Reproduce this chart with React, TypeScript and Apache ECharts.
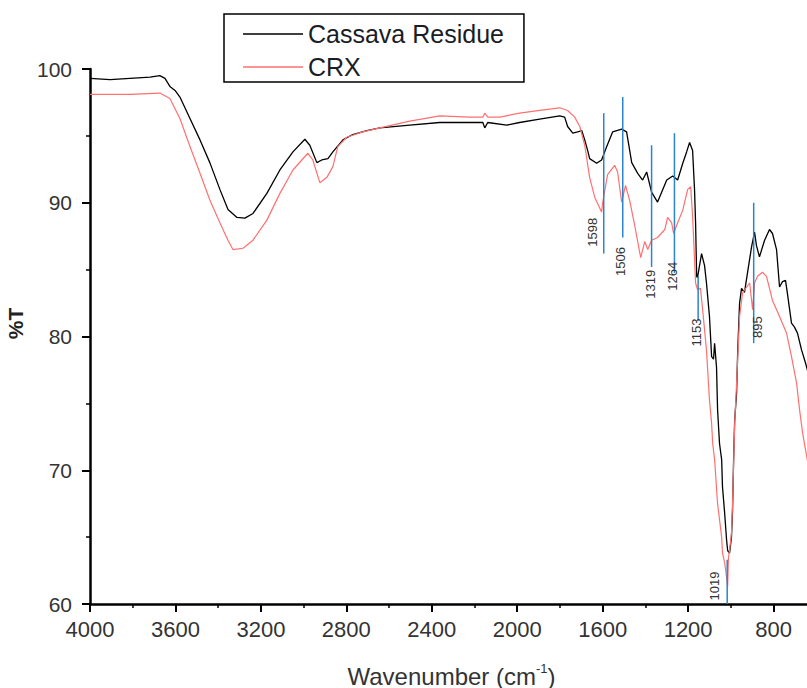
import React, { useEffect, useRef } from 'react';
import * as echarts from 'echarts';

// Cassava Residue spectrum (wavenumber cm-1, %T)
const cassavaWave = [
  4000, 3906, 3813, 3719, 3673, 3649, 3626, 3602, 3579, 3532,
  3485, 3439, 3392, 3354, 3312, 3275, 3237, 3172, 3111, 3050,
  2994, 2971, 2938, 2915, 2886, 2863, 2816, 2770, 2704, 2643,
  2503, 2363, 2222, 2161, 2152, 2138, 2049, 1989, 1895, 1801,
  1778, 1764, 1740, 1717, 1698, 1684, 1670, 1661, 1628, 1605,
  1581, 1553, 1511, 1488, 1464, 1436, 1413, 1394, 1371, 1343,
  1300, 1272, 1249, 1225, 1207, 1193, 1179, 1170, 1165, 1160,
  1156, 1137, 1123, 1114, 1100, 1090, 1081, 1076, 1067, 1062,
  1053, 1043, 1039, 1029, 1020, 1015, 1006, 997, 992, 987,
  982, 973, 968, 959, 950, 936, 922, 903, 889, 880,
  866, 842, 819, 805, 786, 772, 758, 744, 735, 716,
  702, 688, 669, 650, 640,
];
const cassavaT = [
  99.3, 99.2, 99.3, 99.4, 99.5, 99.3, 98.7, 98.4, 97.9, 96.3,
  94.7, 93.0, 91.0, 89.5, 88.9, 88.85, 89.2, 90.7, 92.45, 93.8,
  94.75, 94.3, 93.0, 93.2, 93.3, 93.8, 94.7, 95.1, 95.4, 95.6,
  95.8, 96.0, 96.0, 96.0, 95.6, 96.0, 95.8, 96.0, 96.25, 96.5,
  96.4, 95.7, 95.2, 95.3, 95.4, 94.7, 93.9, 93.3, 92.95, 93.2,
  94.2, 95.3, 95.5, 95.3, 93.0, 92.2, 91.7, 92.3, 90.8, 90.05,
  91.7, 92.0, 91.7, 92.95, 93.8, 94.5, 93.9, 91.0, 88.5, 84.5,
  84.4, 86.2, 85.3, 84.0, 81.5, 78.5, 78.3, 79.5, 77.7, 74.5,
  72.0, 70.8, 68.75, 66.8, 64.8, 64.0, 63.8, 65.0, 67.0, 70.8,
  73.75, 75.8, 78.8, 82.5, 83.6, 83.3, 84.75, 86.7, 87.8, 86.8,
  85.95, 87.2, 88.0, 87.7, 86.5, 83.7, 84.1, 84.2, 83.2, 81.0,
  80.7, 80.25, 79.0, 78.0, 77.4,
];

// CRX spectrum
const crxWave = [
  4000, 3813, 3673, 3626, 3579, 3532, 3485, 3439, 3392, 3354,
  3331, 3284, 3237, 3172, 3111, 3050, 2980, 2957, 2924, 2891,
  2863, 2840, 2798, 2723, 2643, 2503, 2363, 2222, 2161, 2152,
  2138, 2082, 1989, 1895, 1801, 1764, 1731, 1707, 1684, 1661,
  1637, 1605, 1600, 1577, 1544, 1530, 1511, 1493, 1474, 1450,
  1422, 1403, 1389, 1371, 1343, 1309, 1296, 1277, 1268, 1249,
  1225, 1202, 1188, 1179, 1165, 1156, 1142, 1132, 1114, 1100,
  1090, 1085, 1076, 1062, 1043, 1039, 1029, 1020, 1015, 1011,
  1006, 997, 992, 982, 973, 959, 945, 926, 912, 898,
  889, 875, 852, 833, 805, 772, 739, 716, 692, 678,
  664, 650, 640,
];
const crxT = [
  98.1, 98.1, 98.2, 97.8, 96.3, 94.2, 92.2, 90.2, 88.5, 87.2,
  86.5, 86.6, 87.2, 88.7, 90.7, 92.45, 93.7, 93.2, 91.5, 91.9,
  92.7, 94.2, 94.9, 95.3, 95.6, 96.1, 96.5, 96.4, 96.4, 96.7,
  96.4, 96.4, 96.7, 96.9, 97.1, 96.9, 96.4, 95.7, 94.3, 91.9,
  90.4, 89.3, 90.0, 92.1, 92.8, 92.3, 90.05, 91.3, 90.2, 88.3,
  85.9, 87.1, 86.5, 87.2, 87.4, 88.0, 88.9, 88.5, 87.7, 88.5,
  89.45, 91.0, 91.2, 89.0, 84.0, 83.5, 83.6, 82.0, 79.0, 75.25,
  73.5, 72.0, 70.8, 67.5, 65.0, 63.8, 63.1, 62.0, 61.3, 63.5,
  64.0, 65.3, 67.5, 73.5, 76.5, 81.5, 83.25, 83.7, 84.0, 82.0,
  84.0, 84.5, 84.8, 84.5, 82.7, 81.5, 80.25, 78.5, 76.5, 74.5,
  72.8, 71.5, 70.6,
];

// Peak annotations
const peakLabels = ['1598', '1506', '1319', '1264', '1153', '1019', '895'];
const peakWave = [1595, 1506, 1371, 1264, 1153, 1017, 893];
const peakTop = [96.7, 97.9, 94.3, 95.2, 84.5, 63.3, 90.0];
const peakBottom = [86.2, 87.4, 85.2, 84.75, 81.2, 60, 79.5];
const labelWave = [1647, 1516, 1376, 1273, 1160, 1076, 875];
const labelT = [87.8, 85.6, 83.9, 84.5, 80.3, 61.35, 80.7];

const xMin = 400;
const xMax = 4000;
const xStep = 400;
const yMin = 60;
const yMax = 100;
const yStep = 10;

const FONT = '"Liberation Sans", Arial, sans-serif';

export default function App() {
  const ref = useRef<HTMLDivElement>(null);

  useEffect(() => {
    if (!ref.current) return;
    const chart = echarts.init(ref.current, null, { renderer: 'svg' });
    const pairs = (w: number[], t: number[]) => w.map((v, i) => [v, t[i]]);

    chart.setOption({
      animation: false,
      backgroundColor: '#ffffff',
      grid: {
        left: 90,
        top: 69,
        bottom: 84,
        right: -52,
        containLabel: false,
        outerBoundsMode: 'none',
      },
      legend: {
        left: 224,
        top: 14,
        orient: 'vertical',
        data: ['Cassava Residue', 'CRX'],
        icon: 'rect',
        itemWidth: 60,
        itemHeight: 1.6,
        itemGap: 7,
        padding: [7, 20, 2, 19],
        borderColor: '#000',
        borderWidth: 1.5,
        backgroundColor: '#fff',
        borderRadius: 0,
        textStyle: { fontSize: 25, lineHeight: 26, color: '#1a1d26', fontFamily: FONT },
      },
      xAxis: {
        type: 'value',
        inverse: true,
        min: xMin,
        max: xMax,
        interval: xStep,
        name: '{a|Wavenumber (cm}{s|-1}{a|)}',
        nameLocation: 'middle',
        nameGap: 58,
        nameTextStyle: {
          padding: [0, 46, 0, 0],
          rich: {
            a: { fontSize: 24, lineHeight: 28, color: '#333', fontFamily: FONT },
            s: { fontSize: 13, lineHeight: 14, color: '#333', fontFamily: FONT, verticalAlign: 'top' },
          },
        },
        axisLine: { show: true, onZero: false, lineStyle: { color: '#000', width: 2.5 } },
        axisTick: { show: true, inside: false, length: 8, lineStyle: { color: '#000', width: 2 } },
        minorTick: { show: true, splitNumber: 2, length: 4, lineStyle: { color: '#000', width: 1.5 } },
        splitLine: { show: false },
        minorSplitLine: { show: false },
        axisLabel: {
          margin: 14,
          fontSize: 22,
          color: '#333',
          fontFamily: FONT,
          showMinLabel: false,
          formatter: (v: number) => String(v),
        },
      },
      yAxis: {
        type: 'value',
        min: yMin,
        max: yMax,
        interval: yStep,
        name: '%T',
        nameLocation: 'middle',
        nameGap: 61,
        nameTextStyle: { fontSize: 21, fontWeight: 'bold', color: '#222', fontFamily: FONT, padding: [0, 0, 0, 26] },
        axisLine: { show: true, onZero: false, lineStyle: { color: '#000', width: 2.5 } },
        axisTick: { show: true, inside: false, length: 8, lineStyle: { color: '#000', width: 2 } },
        minorTick: { show: true, splitNumber: 2, length: 4, lineStyle: { color: '#000', width: 1.5 } },
        splitLine: { show: false },
        minorSplitLine: { show: false },
        axisLabel: {
          margin: 18,
          fontSize: 21,
          color: '#333',
          fontFamily: FONT,
          formatter: (v: number) => String(v),
        },
      },
      series: [
        {
          name: 'Cassava Residue',
          type: 'line',
          data: pairs(cassavaWave, cassavaT),
          showSymbol: false,
          symbol: 'none',
          smooth: false,
          lineStyle: { color: '#000', width: 1.3 },
          itemStyle: { color: '#000' },
          z: 2,
        },
        {
          name: 'CRX',
          type: 'line',
          data: pairs(crxWave, crxT),
          showSymbol: false,
          symbol: 'none',
          smooth: false,
          lineStyle: { color: '#ff7070', width: 1.2 },
          itemStyle: { color: '#ff7070' },
          z: 3,
        },
        {
          type: 'custom',
          silent: true,
          clip: false,
          z: 4,
          data: peakLabels.map((_, i) => [peakWave[i], peakTop[i], peakBottom[i], labelWave[i], labelT[i], i]),
          encode: { x: 0, y: 1 },
          renderItem: (_params: any, api: any) => {
            const i = api.value(5);
            const a = api.coord([api.value(0), api.value(1)]);
            const b = api.coord([api.value(0), api.value(2)]);
            const l = api.coord([api.value(3), api.value(4)]);
            return {
              type: 'group',
              children: [
                {
                  type: 'line',
                  shape: { x1: a[0], y1: a[1], x2: b[0], y2: b[1] },
                  style: { stroke: '#2b84cc', lineWidth: 1.5 },
                },
                {
                  type: 'text',
                  x: l[0],
                  y: l[1],
                  rotation: Math.PI / 2,
                  style: {
                    text: peakLabels[i],
                    fill: '#333',
                    font: '13px "Liberation Sans", Arial, sans-serif',
                    align: 'center',
                    verticalAlign: 'middle',
                  },
                },
              ],
            };
          },
        },
      ],
    });

    return () => {
      chart.dispose();
    };
  }, []);

  return (
    <div
      ref={ref}
      style={{ position: 'absolute', left: 0, top: 0, width: 807, height: 688, background: '#fff' }}
    />
  );
}
